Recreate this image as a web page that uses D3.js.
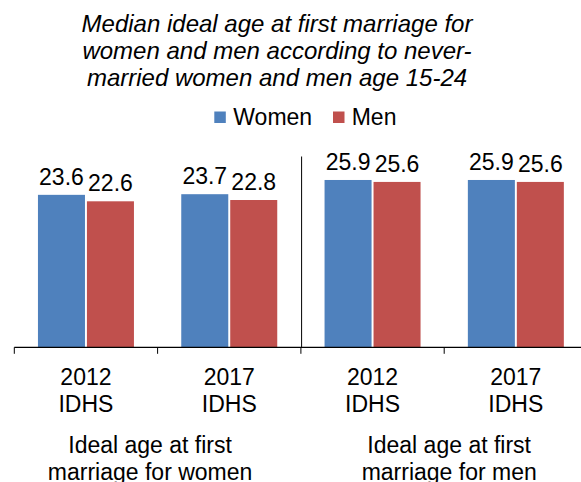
<!DOCTYPE html>
<html>
<head>
<meta charset="utf-8">
<script src="https://cdn.jsdelivr.net/npm/d3@7"></script>
<style>
  html, body { margin: 0; padding: 0; background: #fff; }
  svg { display: block; font-family: "Liberation Sans", Arial, sans-serif; }
</style>
</head>
<body>
<svg id="chart" width="581" height="482"></svg>
<script>
const titleLines = ["Median ideal age at first marriage for", "women and men according to never-", "married women and men age 15-24"];
const series = ["Women", "Men"];
const colors = ["#4F81BD", "#C0504D"];
const categories = ["2012 IDHS|w", "2017 IDHS|w", "2012 IDHS|m", "2017 IDHS|m"];
const categoryLines = [["2012", "IDHS"], ["2017", "IDHS"], ["2012", "IDHS"], ["2017", "IDHS"]];
const womenValues = [23.6, 23.7, 25.9, 25.9];
const menValues = [22.6, 22.8, 25.6, 25.6];
const groupLabels = [["Ideal age at first", "marriage for women"], ["Ideal age at first", "marriage for men"]];
const groupCategories = [[0, 1], [2, 3]];
const yDomain = [0, 30];

const svg = d3.select("#chart");
const axisY = 347.3;
const x0 = d3.scaleBand().domain(categories).range([14.3, 14.3 + 143.3 * 4]).paddingInner(0).paddingOuter(0);
const x1 = d3.scaleBand().domain(series).range([0, x0.bandwidth()]).paddingInner(0.04).paddingOuter(0.483);
const y = d3.scaleLinear().domain(yDomain).range([axisY, 153.5]);
const valuesBySeries = [womenValues, menValues];

// Title
const title = svg.append("text").attr("text-anchor", "middle")
  .attr("font-size", 24).attr("font-style", "italic").attr("fill", "#000");
titleLines.forEach((t, i) => title.append("tspan").attr("x", 277).attr("y", 32 + i * 27).text(t));

// Legend
const legendItems = [{x: 214.3, tx: 233.3}, {x: 333, tx: 351.7}];
series.forEach((s, i) => {
  svg.append("rect").attr("x", legendItems[i].x).attr("y", 111.5).attr("width", 11.5).attr("height", 11.5).attr("fill", colors[i]);
  svg.append("text").attr("x", legendItems[i].tx).attr("y", 125).attr("font-size", 23).attr("fill", "#000").text(s);
});

// Bars
categories.forEach((c, ci) => {
  series.forEach((s, si) => {
    const v = valuesBySeries[si][ci];
    const bx = x0(c) + x1(s);
    svg.append("rect").attr("x", bx).attr("y", y(v)).attr("width", x1.bandwidth())
      .attr("height", y(0) - y(v)).attr("fill", colors[si]);
    svg.append("text").attr("x", bx + x1.bandwidth() / 2).attr("y", y(v) - 10)
      .attr("text-anchor", "middle").attr("font-size", 23).attr("fill", "#000").text(v.toFixed(1));
  });
});

// Axis line and ticks
const axis = d3.axisBottom(x0).tickSize(0).tickFormat("");
const axisG = svg.append("g").attr("transform", `translate(0,${axisY})`).call(axis);
axisG.select(".domain").remove();
svg.append("line").attr("x1", x0.range()[0]).attr("x2", 581).attr("y1", axisY).attr("y2", axisY)
  .attr("stroke", "#000").attr("stroke-width", 1.2);
categories.forEach(c => {
  svg.append("line").attr("x1", x0(c)).attr("x2", x0(c)).attr("y1", axisY).attr("y2", axisY + 6.5)
    .attr("stroke", "#000").attr("stroke-width", 1);
});
// Group separator
svg.append("line").attr("x1", x0(categories[2]) + 0.7).attr("x2", x0(categories[2]) + 0.7)
  .attr("y1", 156.5).attr("y2", axisY).attr("stroke", "#000").attr("stroke-width", 1);

// Category labels
categories.forEach((c, ci) => {
  const t = svg.append("text").attr("text-anchor", "middle").attr("font-size", 23).attr("fill", "#000");
  categoryLines[ci].forEach((line, li) => t.append("tspan")
    .attr("x", x0(c) + x0.bandwidth() / 2).attr("y", 385 + li * 27).text(line));
});

// Group labels
const groupOffsets = [-7.5, 5];
groupLabels.forEach((lines, gi) => {
  const idx = groupCategories[gi];
  const cx = (x0(categories[idx[0]]) + x0(categories[idx[1]]) + x0.bandwidth()) / 2 + groupOffsets[gi];
  const t = svg.append("text").attr("text-anchor", "middle").attr("font-size", 23).attr("fill", "#000");
  lines.forEach((line, li) => t.append("tspan").attr("x", cx).attr("y", 453 + li * 27).text(line));
});
</script>
</body>
</html>
